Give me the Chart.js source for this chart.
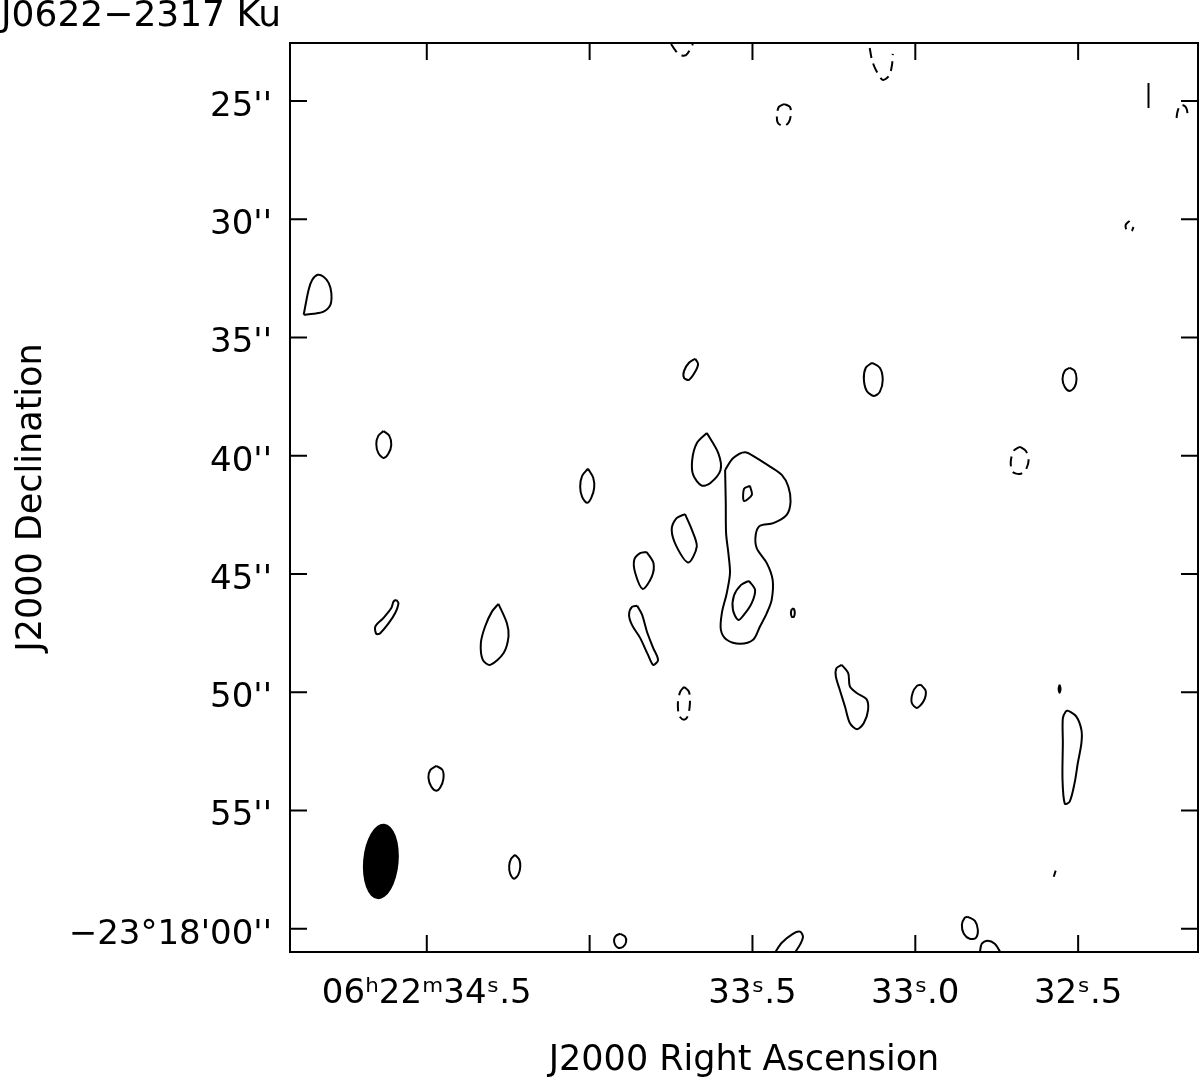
<!DOCTYPE html>
<html>
<head>
<meta charset="utf-8">
<script src="https://cdn.jsdelivr.net/npm/chart.js@4.4.0/dist/chart.umd.min.js"></script>
<style>
  html, body { margin: 0; padding: 0; background: #fff; }
</style>
</head>
<body>
<canvas id="map" width="1200" height="1078"></canvas>
<script>
// axis ranges (RA seconds of 06h22m, Dec arcsec of -23d17m)
const raMin = 32.132, raMax = 34.920;
const decMin = 22.55, decMax = 60.98;

const raTicks = [34.5, 34.0, 33.5, 33.0, 32.5];
const raLabels = ['06\u02b022\u1d5034\u02e2.5', '', '33\u02e2.5', '33\u02e2.0', '32\u02e2.5'];
const decTicks = [25, 30, 35, 40, 45, 50, 55, 60];
const decLabels = ["25''", "30''", "35''", "40''", "45''", "50''", "55''", "\u221223\u00b018'00''"];

// restoring beam
const beamRA = 34.641, beamDec = 57.15;
const beamMajor = 3.2, beamMinor = 1.5, beamPA = -5;

// positive contours [RA s, Dec '']
const srcOuter = [[33.584,40.60],[33.559,40.10],[33.523,39.85],[33.487,40.10],[33.446,40.46],[33.410,40.81],[33.390,41.30],[33.383,41.94],[33.395,42.50],[33.436,42.85],[33.477,42.96],[33.490,43.34],[33.487,43.91],[33.456,44.54],[33.438,45.25],[33.441,46.09],[33.456,46.65],[33.477,47.22],[33.498,47.78],[33.538,47.95],[33.579,47.78],[33.597,47.36],[33.594,46.65],[33.579,45.81],[33.569,44.96],[33.574,44.12],[33.581,43.27],[33.582,42.00],[33.584,40.60]];
const srcPeak = [[33.508,41.27],[33.502,41.65],[33.526,41.91],[33.526,41.40],[33.508,41.27]];
const srcInner = [[33.511,45.29],[33.492,45.67],[33.502,46.22],[33.526,46.72],[33.544,46.94],[33.560,46.51],[33.557,45.92],[33.535,45.46],[33.511,45.29]];
const edgeBlob = [[34.878,34.04],[34.863,32.99],[34.852,32.57],[34.835,32.35],[34.817,32.43],[34.801,32.70],[34.793,33.13],[34.796,33.62],[34.817,33.91],[34.847,34.00],[34.878,34.04]];
const blobA = [[34.633,38.95],[34.615,39.16],[34.609,39.54],[34.618,39.92],[34.633,40.09],[34.649,39.88],[34.655,39.50],[34.649,39.16],[34.633,38.95]];
const blobB = [[34.005,40.55],[33.989,40.93],[33.986,41.36],[33.995,41.78],[34.008,41.99],[34.023,41.74],[34.029,41.31],[34.023,40.85],[34.005,40.55]];
const blobC = [[34.594,46.09],[34.587,46.23],[34.597,46.65],[34.617,47.08],[34.643,47.50],[34.655,47.53],[34.658,47.22],[34.633,46.86],[34.609,46.44],[34.602,46.16],[34.594,46.09]];
const blobD = [[34.280,46.26],[34.254,47.08],[34.249,47.64],[34.264,48.34],[34.305,48.84],[34.328,48.63],[34.334,47.92],[34.321,47.22],[34.300,46.59],[34.280,46.26]];
const blobE = [[33.676,35.90],[33.667,36.12],[33.676,36.45],[33.695,36.79],[33.710,36.71],[33.710,36.41],[33.695,36.07],[33.676,35.90]];
const blobF = [[33.133,36.07],[33.109,36.28],[33.100,36.79],[33.109,37.30],[33.127,37.47],[33.149,37.26],[33.158,36.75],[33.152,36.28],[33.133,36.07]];
const blobG = [[32.526,36.28],[32.511,36.41],[32.505,36.75],[32.511,37.09],[32.526,37.26],[32.541,37.09],[32.548,36.75],[32.541,36.41],[32.526,36.28]];
const blobI = [[33.640,39.04],[33.605,39.89],[33.598,40.60],[33.630,41.16],[33.656,41.26],[33.682,40.81],[33.685,40.17],[33.671,39.47],[33.640,39.04]];
const blobK = [[33.379,46.47],[33.373,46.47],[33.370,46.64],[33.373,46.81],[33.379,46.81],[33.382,46.64],[33.379,46.47]];
const blobL = [[33.707,42.47],[33.686,43.13],[33.671,43.84],[33.697,44.51],[33.733,43.84],[33.748,43.13],[33.733,42.64],[33.707,42.47]];
const blobM = [[33.825,44.07],[33.804,44.54],[33.809,45.11],[33.837,45.63],[33.860,44.96],[33.863,44.40],[33.845,44.12],[33.825,44.07]];
const blobN = [[33.854,46.34],[33.839,46.72],[33.824,47.44],[33.805,48.12],[33.790,48.63],[33.805,48.84],[33.821,48.41],[33.845,47.70],[33.870,47.15],[33.879,46.72],[33.870,46.39],[33.854,46.34]];
const blobP = [[33.226,48.84],[33.206,49.19],[33.201,49.75],[33.180,50.03],[33.150,50.29],[33.145,50.74],[33.158,51.30],[33.179,51.56],[33.201,51.30],[33.216,50.60],[33.232,49.89],[33.244,49.33],[33.242,48.98],[33.226,48.84]];
const blobQ = [[32.983,49.68],[32.968,49.94],[32.974,50.36],[32.995,50.66],[33.011,50.44],[33.008,50.02],[32.995,49.73],[32.983,49.68]];
const blobX = [[32.557,49.68],[32.554,49.85],[32.557,50.02],[32.560,49.85],[32.557,49.68]];
const blobY = [[32.531,50.77],[32.506,51.02],[32.490,51.59],[32.490,52.15],[32.501,52.99],[32.511,53.84],[32.526,54.62],[32.541,54.71],[32.548,53.70],[32.547,52.15],[32.547,51.09],[32.538,50.81],[32.531,50.77]];
const blobU = [[34.471,53.11],[34.452,53.28],[34.449,53.66],[34.459,54.04],[34.471,54.16],[34.486,53.99],[34.495,53.61],[34.489,53.28],[34.471,53.11]];
const blobV = [[34.229,56.87],[34.216,57.08],[34.213,57.38],[34.219,57.71],[34.232,57.88],[34.244,57.67],[34.247,57.33],[34.241,57.04],[34.229,56.87]];
const blobW = [[33.906,60.21],[33.891,60.33],[33.888,60.55],[33.897,60.76],[33.913,60.80],[33.922,60.67],[33.925,60.46],[33.919,60.29],[33.906,60.21]];
const blobR = [[32.839,59.49],[32.817,59.66],[32.808,60.04],[32.814,60.38],[32.833,60.42],[32.851,60.21],[32.857,59.83],[32.848,59.53],[32.839,59.49]];
const arcS = [[32.802,61.01],[32.796,60.63],[32.778,60.50],[32.756,60.63],[32.738,61.01]];
const arcT = [[33.431,61.01],[33.410,60.59],[33.376,60.21],[33.354,60.12],[33.345,60.33],[33.354,60.67],[33.370,61.01]];
const tickZ = [[32.569,57.54],[32.575,57.80]];
const barNE = [[32.284,24.24],[32.284,25.30]];

// negative contours (dashed)
const negTop = [[33.750,22.59],[33.738,22.84],[33.722,23.06],[33.704,23.06],[33.692,22.84],[33.683,22.59]];
const negTop2 = [[33.140,22.76],[33.133,23.27],[33.121,23.69],[33.100,24.11],[33.081,23.94],[33.072,23.52],[33.069,23.01]];
const neg25 = [[33.403,25.13],[33.385,25.25],[33.382,25.55],[33.388,25.89],[33.403,26.06],[33.422,25.93],[33.425,25.59],[33.419,25.25],[33.403,25.13]];
const negEdge = [[32.198,25.72],[32.195,25.46],[32.186,25.17],[32.170,25.25],[32.164,25.55],[32.167,25.76]];
const neg30 = [[32.342,30.07],[32.354,30.24],[32.351,30.45],[32.336,30.49],[32.330,30.33]];
const negH = [[32.679,39.62],[32.661,39.79],[32.652,40.17],[32.661,40.60],[32.679,40.77],[32.701,40.68],[32.707,40.26],[32.698,39.79],[32.679,39.62]];
const negO = [[33.710,49.77],[33.695,49.98],[33.692,50.44],[33.698,50.99],[33.710,51.16],[33.725,50.99],[33.729,50.44],[33.722,49.98],[33.710,49.77]];

const solidContours = [srcOuter, srcPeak, srcInner, edgeBlob, blobA, blobB, blobC, blobD, blobE, blobF, blobG,
  blobI, blobK, blobL, blobM, blobN, blobP, blobQ, blobX, blobY, blobU, blobV, blobW, blobR, arcS, arcT, tickZ, barNE];
const dashedContours = [negTop, negTop2, neg25, negEdge, neg30, negH, negO];

const FONT = '"DejaVu Sans", "Liberation Sans", sans-serif';

function contourDataset(points, dashed) {
    return {
        data: points.map(([x, y]) => ({ x, y })),
        showLine: true,
        borderColor: '#000',
        borderWidth: 2,
        borderDash: dashed ? [10, 6] : [],
        pointRadius: 0,
        tension: 0.3,
        fill: false
    };
}

const datasets = [
    ...solidContours.map(c => contourDataset(c, false)),
    ...dashedContours.map(c => contourDataset(c, true))
];

// frame with inward ticks on all four sides
const frameTicks = {
    id: 'frameTicks',
    afterDraw(chart) {
        const { ctx, chartArea: a, scales: { x, y } } = chart;
        const len = 17;
        ctx.save();
        ctx.strokeStyle = '#000';
        ctx.lineWidth = 2;
        ctx.strokeRect(a.left, a.top, a.right - a.left, a.bottom - a.top);
        ctx.beginPath();
        raTicks.forEach(v => {
            const px = x.getPixelForValue(v);
            ctx.moveTo(px, a.bottom); ctx.lineTo(px, a.bottom - len);
            ctx.moveTo(px, a.top); ctx.lineTo(px, a.top + len);
        });
        decTicks.forEach(v => {
            const py = y.getPixelForValue(v);
            ctx.moveTo(a.left, py); ctx.lineTo(a.left + len, py);
            ctx.moveTo(a.right, py); ctx.lineTo(a.right - len, py);
        });
        ctx.stroke();
        ctx.restore();
    }
};

// filled beam ellipse, sized in arcsec through the Dec scale
const beamShape = {
    id: 'beamShape',
    afterDatasetsDraw(chart) {
        const { ctx, scales: { x, y } } = chart;
        const cx = x.getPixelForValue(beamRA);
        const cy = y.getPixelForValue(beamDec);
        const perArcsec = Math.abs(y.getPixelForValue(beamDec + 1) - cy);
        ctx.save();
        ctx.beginPath();
        ctx.ellipse(cx, cy, beamMinor / 2 * perArcsec, beamMajor / 2 * perArcsec,
            -beamPA * Math.PI / 180, 0, 2 * Math.PI);
        ctx.fillStyle = '#000';
        ctx.fill();
        ctx.restore();
    }
};

const plotTitle = {
    id: 'plotTitle',
    afterDraw(chart) {
        const ctx = chart.ctx;
        ctx.save();
        ctx.fillStyle = '#000';
        ctx.font = '36px ' + FONT;
        ctx.textBaseline = 'alphabetic';
        ctx.textAlign = 'left';
        ctx.fillText('J0622\u22122317 Ku', 1, 26);
        ctx.restore();
    }
};

new Chart(document.getElementById('map'), {
    type: 'scatter',
    data: { datasets },
    plugins: [beamShape, frameTicks, plotTitle],
    options: {
        responsive: false,
        animation: false,
        devicePixelRatio: 1,
        layout: { padding: { top: 43, right: 2, left: 0, bottom: 0 } },
        plugins: {
            legend: { display: false },
            tooltip: { enabled: false }
        },
        scales: {
            x: {
                type: 'linear',
                reverse: true,
                min: raMin,
                max: raMax,
                grid: { display: false, drawTicks: false },
                border: { display: false },
                afterBuildTicks: s => { s.ticks = raTicks.map(v => ({ value: v })); },
                afterFit: s => { s.height = 126; },
                ticks: {
                    autoSkip: false,
                    maxRotation: 0,
                    padding: 22,
                    color: '#000',
                    font: { family: FONT, size: 34 },
                    callback: v => raLabels[raTicks.indexOf(v)]
                },
                title: {
                    display: true,
                    text: 'J2000 Right Ascension',
                    color: '#000',
                    font: { family: FONT, size: 35, lineHeight: 1 },
                    padding: { top: 0, bottom: 0 }
                }
            },
            y: {
                type: 'linear',
                reverse: true,
                min: decMin,
                max: decMax,
                grid: { display: false, drawTicks: false },
                border: { display: false },
                afterBuildTicks: s => { s.ticks = decTicks.map(v => ({ value: v })); },
                afterFit: s => { s.width = 290; },
                ticks: {
                    autoSkip: false,
                    padding: 18,
                    labelOffset: 6,
                    color: '#000',
                    font: { family: FONT, size: 34 },
                    callback: v => decLabels[decTicks.indexOf(v)]
                },
                title: {
                    display: true,
                    text: 'J2000 Declination',
                    color: '#000',
                    font: { family: FONT, size: 35, lineHeight: 1 },
                    padding: { top: 14, bottom: 0 }
                }
            }
        }
    }
});
</script>
</body>
</html>
